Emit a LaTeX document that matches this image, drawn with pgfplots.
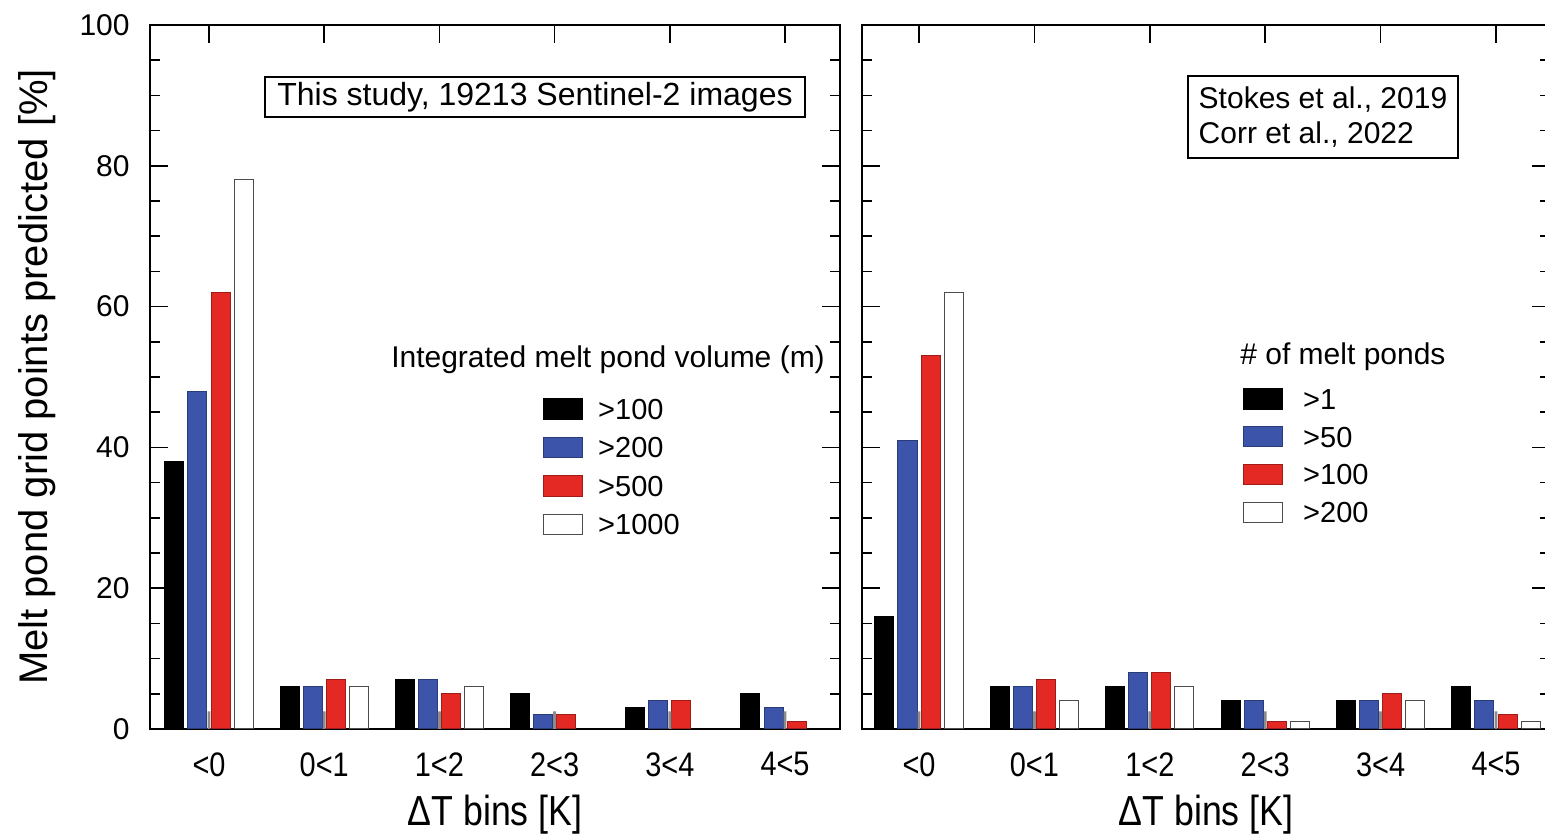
\documentclass[border=0pt]{standalone}
\usepackage{fontspec}
\setmainfont{Liberation Sans}
\newfontfamily\narrowfont{Liberation Sans}[FakeStretch=0.85]
\usepackage{pgfplots}
\pgfplotsset{compat=1.18}
\definecolor{mblue}{RGB}{60,85,170}
\definecolor{mred}{RGB}{228,40,36}
\pgfplotsset{
  panel/.style={
    scale only axis, height=352pt,
    ymin=0, ymax=100,
    xtick={0,1,2,3,4,5},
    xticklabels={<0,0<1,1<2,2<3,3<4,4<5},
    xtick pos=right, xticklabel pos=left,
    ytick={0,20,40,60,80,100}, minor y tick num=3, ytick pos=both, yticklabel pos=left,
    major tick length=9pt, minor tick length=5pt,
    tick style={black, line width=0.8pt},
    axis line style={line width=1.2pt},
    /pgf/number format/assume math mode=true,
    xticklabel style={font=\narrowfont\fontsize{17}{17}\selectfont, inner sep=0pt, anchor=north, yshift=-11.5pt},
    yticklabel style={font=\fontsize{15}{15}\selectfont, inner sep=0pt, anchor=east, xshift=-10pt},
    xlabel={ΔT bins [K]},
    xlabel style={font=\narrowfont\fontsize{21}{21}\selectfont, at={(axis description cs:0.5,-0.1222)}, anchor=center},
    legend cell align=left,
  },
  mybar/.style={ybar, bar width=0.165, line width=0.5pt,
    legend image code/.code={\draw[##1, line width=0.6pt] (0pt,-5.1pt) rectangle (19.5pt,5.1pt);}},
}
\begin{document}
\begin{tikzpicture}
\path[use as bounding box] (0,0) rectangle (772.5pt,419.5pt);
% ---------------- left panel ----------------
\begin{axis}[panel, at={(75pt,55pt)}, anchor=south west, width=345pt,
  xmin=-0.512, xmax=5.477,
  ylabel={Melt pond grid points predicted [\%]},
  ylabel style={font=\fontsize{20}{20}\selectfont, at={(axis description cs:-0.1638,0.5)}, anchor=center},
  legend style={at={(0.5696,0.4702)}, anchor=north west, draw=none, fill=none,
    inner sep=0pt, outer sep=0pt, row sep=8.5pt, column sep=7.5pt,
    nodes={inner sep=0pt, text height=10.4pt, text depth=0pt, font=\fontsize{14.5}{14.5}\selectfont}},
]
\addplot[mybar, bar shift=-0.3, fill=black, draw=black] coordinates {(0,38) (1,6) (2,7) (3,5) (4,3) (5,5)};
\addlegendentry{>100}
\addplot[mybar, bar shift=-0.1, fill=mblue, draw=mblue!70!black] coordinates {(0,48) (1,6) (2,7) (3,2) (4,4) (5,3)};
\addlegendentry{>200}
\addplot[mybar, bar shift=0.1, fill=mred, draw=mred!70!black] coordinates {(0,62) (1,7) (2,5) (3,2) (4,4) (5,1)};
\addlegendentry{>500}
\addplot[mybar, bar shift=0.3, fill=white, draw=black!70] coordinates {(0,78) (1,6) (2,6)};
\addlegendentry{>1000}
\addplot[ybar, bar width=0.025, bar shift=0, fill=black!45, draw=none, forget plot] coordinates {(0,2.5) (1,2.5) (2,2.5) (3,2.5) (4,2.5) (5,2.5)};
\node[font=\fontsize{15}{15}\selectfont, inner sep=0pt, anchor=center] at (rel axis cs:0.6638,0.5241) {Integrated melt pond volume (m)};
\node[draw, line width=1pt, minimum width=270pt, minimum height=20pt, inner sep=0pt, font=\fontsize{16}{16}\selectfont] at (rel axis cs:0.558,0.8977) {This study, 19213 Sentinel-2 images};
\end{axis}
% ---------------- right panel ----------------
\begin{axis}[panel, at={(431pt,55pt)}, anchor=south west, width=344pt,
  xmin=-0.494, xmax=5.468,
  yticklabels={},
  legend style={at={(0.5538,0.4844)}, anchor=north west, draw=none, fill=none,
    inner sep=0pt, outer sep=0pt, row sep=8.15pt, column sep=10pt,
    nodes={inner sep=0pt, text height=10.4pt, text depth=0pt, font=\fontsize{14.5}{14.5}\selectfont}},
]
\addplot[mybar, bar shift=-0.3, fill=black, draw=black] coordinates {(0,16) (1,6) (2,6) (3,4) (4,4) (5,6)};
\addlegendentry{>1}
\addplot[mybar, bar shift=-0.1, fill=mblue, draw=mblue!70!black] coordinates {(0,41) (1,6) (2,8) (3,4) (4,4) (5,4)};
\addlegendentry{>50}
\addplot[mybar, bar shift=0.1, fill=mred, draw=mred!70!black] coordinates {(0,53) (1,7) (2,8) (3,1) (4,5) (5,2)};
\addlegendentry{>100}
\addplot[mybar, bar shift=0.3, fill=white, draw=black!70] coordinates {(0,62) (1,4) (2,6) (3,1) (4,4) (5,1)};
\addlegendentry{>200}
\addplot[ybar, bar width=0.025, bar shift=0, fill=black!45, draw=none, forget plot] coordinates {(0,2.5) (1,2.5) (2,2.5) (3,2.5) (4,2.5) (5,2.5)};
\node[font=\fontsize{15}{15}\selectfont, inner sep=0pt, anchor=west] at (rel axis cs:0.5494,0.5284) {\# of melt ponds};
\node[draw, line width=1pt, minimum width=135pt, minimum height=41pt, inner sep=4pt, align=left, font=\fontsize{15}{17.5}\selectfont] at (rel axis cs:0.670,0.8693) {Stokes et al., 2019\\Corr et al., 2022};
\end{axis}
\end{tikzpicture}
\end{document}
